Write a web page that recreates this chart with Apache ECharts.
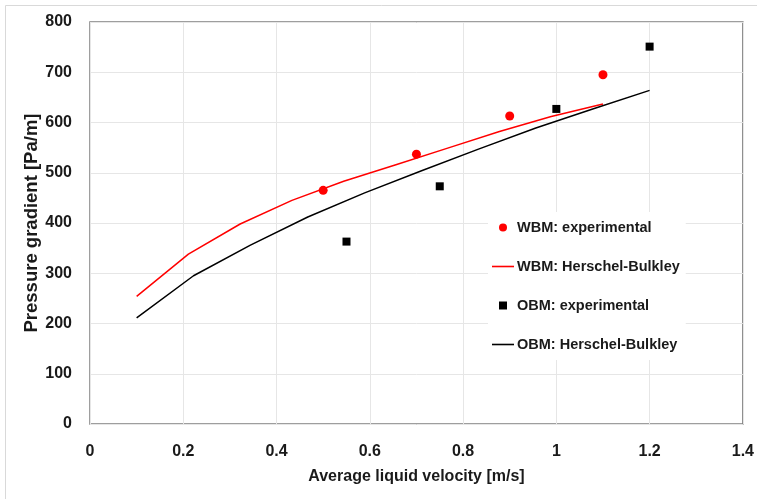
<!DOCTYPE html>
<html><head><meta charset="utf-8">
<script src="https://cdn.jsdelivr.net/npm/echarts@6/dist/echarts.min.js"></script>
<style>html,body{margin:0;padding:0;background:#fff}#c{width:757px;height:499px}</style>
</head><body><div id="c"></div>
<script>
// WBM experimental
const wbmExpX = [0.5, 0.7, 0.9, 1.1];
const wbmExpY = [465, 537, 613, 695];
// WBM Herschel-Bulkley model
const wbmHbX = [0.1, 0.211, 0.322, 0.433, 0.544, 0.656, 0.767, 0.878, 0.989, 1.1];
const wbmHbY = [254, 338, 398, 445, 483, 516, 549, 582, 612, 637];
// OBM experimental
const obmExpX = [0.55, 0.75, 1.0, 1.2];
const obmExpY = [363, 473, 627, 751];
// OBM Herschel-Bulkley model
const obmHbX = [0.1, 0.222, 0.344, 0.467, 0.589, 0.711, 0.833, 0.956, 1.078, 1.2];
const obmHbY = [211, 295, 356, 412, 460, 504, 547, 589, 627, 664];
// Axis ticks
const xTicks = [0, 0.2, 0.4, 0.6, 0.8, 1, 1.2, 1.4];
const yTicks = [0, 100, 200, 300, 400, 500, 600, 700, 800];

const seriesNames = ['WBM: experimental', 'WBM: Herschel-Bulkley', 'OBM: experimental', 'OBM: Herschel-Bulkley'];
const zip = (xs, ys) => xs.map((x, i) => [x, ys[i]]);
const FONT = 'Liberation Sans';
const TXT = '#1a1a1a';
const LINE_ICON = 'path://M0,0 L22,0 L22,1.6 L0,1.6 Z';
const SQ_ICON = 'path://M0,0 L8,0 L8,8 L0,8 Z';

const chart = echarts.init(document.getElementById('c'), null, {renderer: 'canvas'});
chart.setOption({
  animation: false,
  backgroundColor: '#fff',
  graphic: [{
    type: 'rect', shape: {x: 5.5, y: 5.5, width: 800, height: 600},
    style: {fill: 'none', stroke: '#d9d9d9', lineWidth: 1}, silent: true, z: -10
  }],
  grid: {left: 90, right: 14, top: 22, bottom: 75, show: true, borderColor: '#7f7f7f', borderWidth: 1.5, backgroundColor: 'transparent'},
  xAxis: {
    type: 'value', min: xTicks[0], max: xTicks[xTicks.length - 1], interval: 0.2,
    name: 'Average liquid velocity [m/s]', nameLocation: 'middle', nameGap: 45,
    nameTextStyle: {fontFamily: FONT, fontWeight: 'bold', fontSize: 16, color: TXT},
    axisLine: {show: false}, axisTick: {show: false},
    axisLabel: {fontFamily: FONT, fontWeight: 'bold', fontSize: 16, color: TXT, margin: 20},
    splitLine: {show: true, lineStyle: {color: '#e6e6e6', width: 1}}
  },
  yAxis: {
    type: 'value', min: yTicks[0], max: yTicks[yTicks.length - 1], interval: 100,
    name: 'Pressure gradient [Pa/m]', nameLocation: 'middle', nameGap: 49, nameRotate: 90,
    nameMoveOverlap: false,
    nameTextStyle: {fontFamily: FONT, fontWeight: 'bold', fontSize: 18.5, color: TXT},
    axisLine: {show: false}, axisTick: {show: false},
    axisLabel: {fontFamily: FONT, fontWeight: 'bold', fontSize: 16, color: TXT, margin: 18},
    splitLine: {show: true, lineStyle: {color: '#e6e6e6', width: 1}}
  },
  legend: {
    orient: 'vertical', left: 488, top: 212,
    backgroundColor: '#fff', padding: [8, 6, 8, 4],
    itemWidth: 22, itemHeight: 8, itemGap: 24, symbolKeepAspect: true,
    textStyle: {fontFamily: FONT, fontWeight: 'bold', fontSize: 14.5, color: TXT, padding: [0, 0, 0, -2]},
    data: [
      {name: seriesNames[0], icon: 'circle'},
      {name: seriesNames[1], icon: LINE_ICON},
      {name: seriesNames[2], icon: SQ_ICON},
      {name: seriesNames[3], icon: LINE_ICON}
    ]
  },
  series: [
    {name: seriesNames[0], type: 'scatter', data: zip(wbmExpX, wbmExpY), symbol: 'circle', symbolSize: 9, itemStyle: {color: '#ff0000', opacity: 1}, z: 5},
    {name: seriesNames[1], type: 'line', data: zip(wbmHbX, wbmHbY), symbol: 'none', lineStyle: {color: '#ff0000', width: 1.5}, itemStyle: {color: '#ff0000'}},
    {name: seriesNames[2], type: 'scatter', data: zip(obmExpX, obmExpY), symbol: 'rect', symbolSize: 8, itemStyle: {color: '#000', opacity: 1}, z: 5},
    {name: seriesNames[3], type: 'line', data: zip(obmHbX, obmHbY), symbol: 'none', lineStyle: {color: '#000', width: 1.5}, itemStyle: {color: '#000'}}
  ]
});
</script></body></html>
